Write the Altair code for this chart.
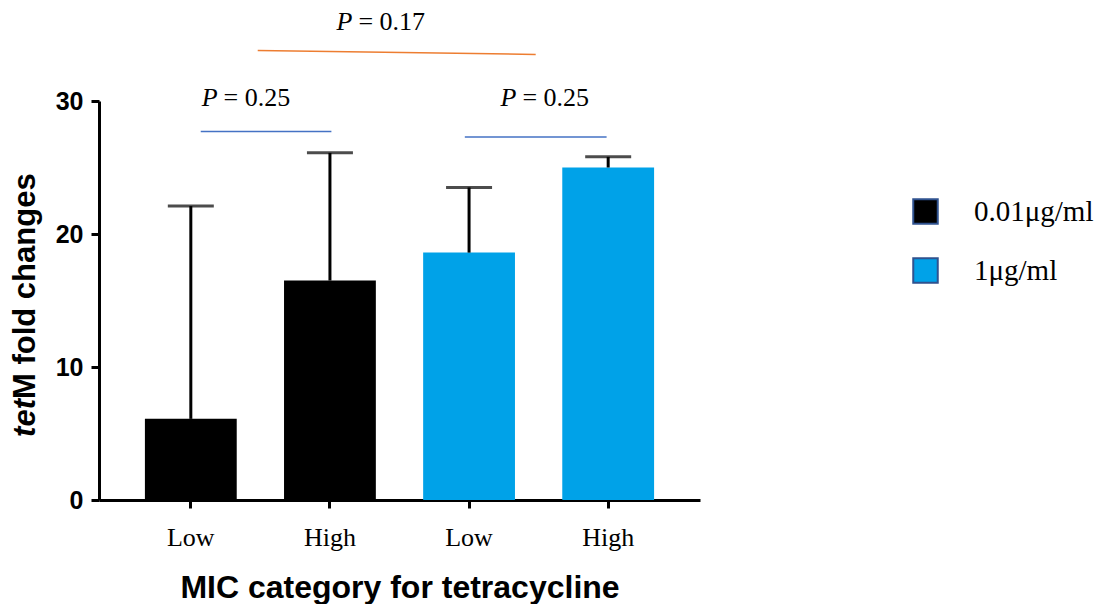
import altair as alt
import pandas as pd

# ---- data ----
mic = ["Low", "High", "Low", "High"]
conc = ["0.01μg/ml", "0.01μg/ml", "1μg/ml", "1μg/ml"]
means = [6.1, 16.5, 18.6, 25.0]
upper = [22.1, 26.1, 23.5, 25.8]

conc_levels = ["0.01μg/ml", "1μg/ml"]
conc_colors = ["#000000", "#00A2E8"]

# significance brackets (x in bar-index units, y in data units)
br_x1 = [0.07, 1.97, 0.48]
br_x2 = [1.01, 2.99, 2.48]
br_y1 = [27.7, 27.3, 33.8]
br_y2 = [27.7, 27.3, 33.5]
br_col = ["#4472C4", "#4472C4", "#ED7D31"]

p_x = [0.22, 2.37, 1.19]
p_y = [29.6, 29.6, 35.35]
p_val = ["= 0.25", "= 0.25", "= 0.17"]

df = pd.DataFrame({
    "key": [f"{m}|{c}" for m, c in zip(mic, conc)],
    "mic": mic, "conc": conc, "mean": means, "upper": upper,
})
br = pd.DataFrame({"x1": br_x1, "x2": br_x2, "y1": br_y1, "y2": br_y2, "col": br_col})
pdf = pd.DataFrame({"x": p_x, "y": p_y, "val": p_val})

order = list(df["key"])
xs = alt.Scale(domain=order, paddingInner=0.34, paddingOuter=0.33)
ys = alt.Scale(domain=[0, 30], nice=False)

X = alt.X("key:N", scale=xs, sort=order, axis=alt.Axis(
    title="MIC category for tetracycline", labelExpr="split(datum.label,'|')[0]",
    labelAngle=0, labelFont="Liberation Serif", labelFontSize=26, labelColor="black",
    labelPadding=16, tickSize=8, tickWidth=3, tickColor="black",
    domainWidth=3, domainColor="black", titleFont="Liberation Sans",
    titleFontSize=32, titleFontWeight="bold", titleColor="black", titlePadding=22,
))
Y = alt.Y("mean:Q", scale=ys, axis=alt.Axis(
    title=None, values=[0, 10, 20, 30], grid=False, labelFont="Liberation Sans",
    labelFontSize=25, labelFontWeight="bold", labelColor="black", labelPadding=8,
    tickSize=8, tickWidth=3, tickColor="black", domainWidth=3, domainColor="black",
))

bars = alt.Chart(df).mark_bar().encode(
    x=X, y=Y,
    color=alt.Color("conc:N", scale=alt.Scale(domain=conc_levels, range=conc_colors),
                    legend=alt.Legend(
                        title=None, orient="none", legendX=812, legendY=96,
                        symbolType="square", symbolSize=600, symbolStrokeWidth=2,
                        symbolStrokeColor="#2F528F", labelFont="Liberation Serif",
                        labelFontSize=29, labelColor="black", labelOffset=34,
                        labelLimit=400, rowPadding=26,
                    )),
)
err = alt.Chart(df).mark_rule(color="black", strokeWidth=3).encode(
    x=alt.X("key:N", scale=xs, sort=order), y="mean:Q", y2="upper:Q")
caps = alt.Chart(df).mark_tick(color="black", thickness=3, size=46).encode(
    x=alt.X("key:N", scale=xs, sort=order), y="upper:Q")

lx = alt.Scale(domain=[-0.662, 3.662], nice=False, zero=False)
brackets = alt.Chart(br).mark_rule(strokeWidth=1.5).encode(
    x=alt.X("x1:Q", scale=lx, axis=None), x2="x2:Q",
    y=alt.Y("y1:Q", scale=ys), y2="y2:Q",
    color=alt.Color("col:N", scale=None),
)
pP = alt.Chart(pdf).mark_text(font="Liberation Serif", fontSize=26, fontStyle="italic",
                              align="right", baseline="alphabetic", dx=-4, color="black").encode(
    x=alt.X("x:Q", scale=lx, axis=None), y=alt.Y("y:Q", scale=ys), text=alt.value("P"))
pV = alt.Chart(pdf).mark_text(font="Liberation Serif", fontSize=26,
                              align="left", baseline="alphabetic", dx=2, color="black").encode(
    x=alt.X("x:Q", scale=lx, axis=None), y=alt.Y("y:Q", scale=ys), text="val:N")

yt1 = alt.Chart(df.head(1)).mark_text(font="Liberation Sans", fontSize=31, fontWeight="bold",
                                       fontStyle="italic", angle=270, align="right",
                                       baseline="middle", color="black").encode(
    x=alt.value(-73), y=alt.value(298), text=alt.value("tet"))
yt2 = alt.Chart(df.head(1)).mark_text(font="Liberation Sans", fontSize=31, fontWeight="bold",
                                       angle=270, align="left", baseline="middle",
                                       color="black").encode(
    x=alt.value(-73), y=alt.value(298), text=alt.value("M fold changes"))

main = alt.layer(bars, err, caps)
ann = alt.layer(brackets, pP, pV)
chart = alt.layer(main, ann, yt1, yt2).resolve_scale(x="independent").properties(
    width=601, height=399,
    autosize=alt.AutoSizeParams(type="none"),
    padding={"left": 91, "top": 93, "right": 405, "bottom": 104},
).configure_view(stroke=None)

chart.save("out.html", embed_options={"renderer": "svg", "actions": False})
